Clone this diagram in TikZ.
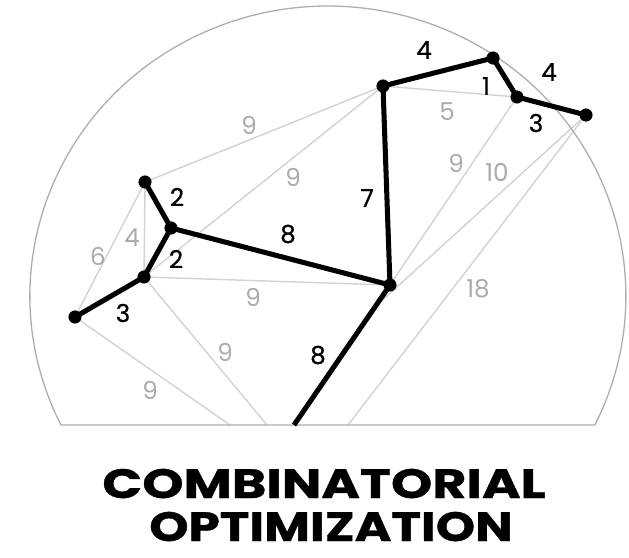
\documentclass[tikz,border=0pt]{standalone}
\usepackage{fontspec}
\setmainfont{Poppins}
\newfontfamily\wtfont{Poppins}[FakeBold=0.6]
\newfontfamily\ttlfont{Poppins}[FakeBold=0.8]
\definecolor{edgegray}{HTML}{D2D2D2}
\definecolor{labgray}{HTML}{ABABAB}
\definecolor{domegray}{HTML}{ADADAD}

\begin{document}
\begin{tikzpicture}[x=0.03cm,y=-0.03cm,
    tree/.style={line width=4.3pt,line cap=round,line join=round},
    cand/.style={edgegray,line width=1.2pt},
    wt/.style={font=\wtfont\fontsize{21}{21}\selectfont,inner sep=0pt},
    wtg/.style={font=\fontsize{21}{21}\selectfont,inner sep=0pt,labgray},
    title/.style={font=\ttlfont\fontsize{35}{35}\selectfont\bfseries,anchor=base,inner sep=0pt}]
  \useasboundingbox (0,0) rectangle (629,557);

  % Vertices of the graph (pixel positions, y pointing down).
  \coordinate (A) at (145,182);
  \coordinate (B) at (171,228);
  \coordinate (C) at (144,277);
  \coordinate (D) at (75,317);
  \coordinate (E) at (390,285);
  \coordinate (F) at (383,86);
  \coordinate (G) at (493,58);
  \coordinate (H) at (517,97);
  \coordinate (I) at (586,115);
  % Ends cut off by the base line, and one hidden under a tree edge.
  \coordinate (pD) at (230,425);
  \coordinate (pC) at (267,425);
  \coordinate (pE) at (294,425);
  \coordinate (pI) at (348,425);
  \coordinate (J) at (375,307);

  % Candidate edges, not in the tree.
  \draw[cand] (A) -- (F);
  \draw[cand] (C) -- (F);
  \draw[cand] (A) -- (C);
  \draw[cand] (A) -- (D);
  \draw[cand] (C) -- (E);
  \draw[cand] (C) -- (pC);
  \draw[cand] (D) -- (pD);
  \draw[cand] (F) -- (H);
  \draw[cand] (H) -- (E);
  \draw[cand] (I) -- (J);
  \draw[cand] (I) -- (pI);

  % The dome and its base.
  \draw[domegray,line width=1.1pt] (61,425) arc[start angle=153.6,end angle=386.4,x radius=298,y radius=290] -- cycle;

  % Tree edges.
  \draw[tree] (D) -- (C) -- (B) -- (A);
  \draw[tree] (B) -- (E) -- (F) -- (G) -- (H) -- (I);
  \draw[tree,line cap=butt] (E) -- (pE);

  \foreach \v in {A,B,C,D,E,F,G,H,I}
    \fill (\v) circle[radius=5.6pt];

  % Edge weights.
  \node[wt] (wFG) at (424,50) {4};
  \node[wt] (wGH) at (486,86) {1};
  \node[wt] (wGI) at (549,72) {4};
  \node[wt] (wHI) at (536,123) {3};
  \node[wt] (wEF) at (367,198) {7};
  \node[wt] (wAB) at (177,197) {2};
  \node[wt] (wBE) at (288,234) {8};
  \node[wt] (wBC) at (176,259) {2};
  \node[wt] (wCD) at (123,313) {3};
  \node[wt] (wEp) at (318,355) {8};

  \node[wtg] (wAF) at (249,125) {9};
  \node[wtg] (wCF) at (293,177) {9};
  \node[wtg] (wAC) at (132,238) {4};
  \node[wtg] (wAD) at (98,256) {6};
  \node[wtg] (wCE) at (253,297) {9};
  \node[wtg] (wCp) at (225,352) {9};
  \node[wtg] (wDp) at (150,390) {9};
  \node[wtg] (wFH) at (447,112) {5};
  \node[wtg] (wHE) at (456,163) {9};
  \node[wtg] (wIJ) at (497,172) {10};
  \node[wtg] (wIp) at (478,289) {18};

  \node[title] (ttl1) at (324,498) {\scalebox{1.28}[1]{COMBINATORIAL}};
  \node[title] (ttl2) at (331,541) {\scalebox{1.22}[1]{OPTIMIZATION}};
\end{tikzpicture}
\end{document}
